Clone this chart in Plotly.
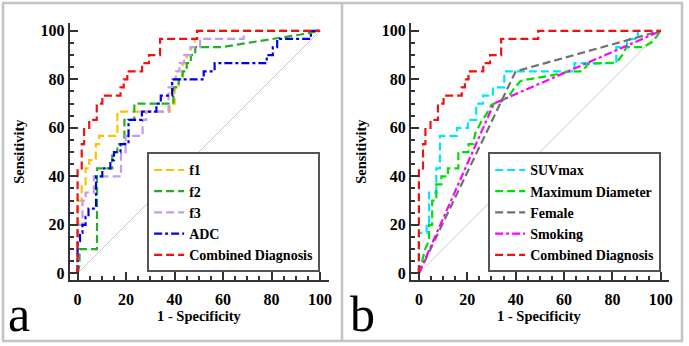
import plotly.graph_objects as go

# ---------------- data ----------------
diag = [0, 100]

combined_x = [0, 0, 1.7, 1.7, 2.7, 2.7, 4.8, 4.8, 7.9, 7.9, 10.2, 10.2, 17.7, 17.7, 19, 19, 20.5, 20.5, 26.6, 26.6, 29.4, 29.4, 34, 34, 49.3, 49.3, 100]
combined_y = [0, 43.3, 43.3, 53.3, 53.3, 60, 60, 63.3, 63.3, 70, 70, 73.3, 73.3, 76.7, 76.7, 80, 80, 83.3, 83.3, 86.7, 86.7, 90, 90, 96.7, 96.7, 100, 100]

f1_x = [0, 0, 1.7, 1.7, 3.3, 3.3, 4.8, 4.8, 7.5, 7.5, 8.9, 8.9, 16.4, 16.4, 38, 38, 40, 40, 41.7, 41.7, 43.3, 43.3, 45, 45, 46.7, 46.7, 48.3, 48.3, 49.3, 49.3, 100]
f1_y = [0, 30, 30, 36.7, 36.7, 43.3, 43.3, 46.7, 46.7, 53.3, 53.3, 56.7, 56.7, 66.7, 66.7, 70, 70, 76.7, 76.7, 80, 80, 86.7, 86.7, 90, 90, 93.3, 93.3, 96.7, 96.7, 100, 100]

f2_x = [0, 0.8, 0.8, 8, 8, 14.3, 14.3, 16.4, 16.4, 19.3, 19.3, 23.4, 23.4, 39.5, 39.5, 41.7, 41.7, 43.3, 43.3, 45, 45, 46.7, 46.7, 48.5, 48.5, 59.5, 70, 82.8, 92, 100]
f2_y = [0, 3.3, 10, 10, 43.3, 43.3, 50, 50, 53.3, 53.3, 63.3, 63.3, 70, 70, 76.7, 76.7, 80, 80, 83.3, 83.3, 86.7, 86.7, 90, 90, 93.3, 93.3, 95, 97, 98.5, 100]

f3_x = [0, 0, 2, 2, 3.3, 3.3, 6.7, 6.7, 17.9, 17.9, 19.8, 19.8, 26.8, 26.8, 28.3, 28.3, 37.5, 37.5, 39, 39, 40.5, 40.5, 42, 42, 43.9, 43.9, 46.5, 46.5, 50.5, 50.5, 68.5, 68.5, 100]
f3_y = [0, 20, 20, 30, 30, 33.3, 33.3, 40, 40, 50, 50, 56.7, 56.7, 63.3, 63.3, 66.7, 66.7, 76.7, 76.7, 80, 80, 83.3, 83.3, 86.7, 86.7, 90, 90, 93.3, 93.3, 96.7, 96.7, 100, 100]

adc_x = [0, 0, 1, 1, 2, 2, 3.3, 3.3, 4.5, 4.5, 7.6, 7.6, 10.2, 10.2, 13.5, 13.5, 15, 15, 17.7, 17.7, 21, 21, 26.5, 26.5, 32.5, 32.5, 34.3, 34.3, 39, 39, 52, 52, 56.5, 56.5, 78, 78, 80.5, 80.5, 82.3, 82.3, 96.2, 96.2, 100]
adc_y = [0, 13.3, 13.3, 16.7, 16.7, 20, 20, 23.3, 23.3, 26.7, 26.7, 40, 40, 43.3, 43.3, 46.7, 46.7, 50, 50, 53.3, 53.3, 63.3, 63.3, 66.7, 66.7, 70, 70, 73.3, 73.3, 80, 80, 83.3, 83.3, 86.7, 86.7, 90, 90, 93.3, 93.3, 96.7, 96.7, 100, 100]

suv_x = [0, 0, 3.2, 3.2, 4.2, 4.2, 7.2, 7.2, 8.7, 8.7, 15.8, 15.8, 20.3, 20.3, 23.7, 23.7, 26.5, 26.5, 30.6, 30.6, 35.3, 35.3, 64.3, 64.3, 81.6, 81.6, 86, 86, 90.5, 90.5, 100]
suv_y = [0, 16.7, 16.7, 20, 20, 33.3, 33.3, 43.3, 43.3, 56.7, 56.7, 60, 60, 63.3, 63.3, 70, 70, 73.3, 73.3, 76.7, 76.7, 83.3, 83.3, 86.7, 86.7, 93.3, 93.3, 96.7, 96.7, 100, 100]

md_x = [0, 1.2, 2.6, 4.2, 4.2, 5.5, 5.5, 7.2, 7.2, 9.3, 9.3, 12, 12, 16.3, 16.3, 20.5, 20.5, 22.5, 23.2, 25.9, 28, 30, 31, 33.5, 35.4, 37.4, 39.6, 42, 45, 53, 62.7, 67.5, 70, 80.3, 82.5, 84.4, 85.7, 92.7, 96.7, 100]
md_y = [0, 5, 10, 13.3, 20, 20, 30, 30, 36.7, 36.7, 40, 40, 43.3, 43.3, 50, 50, 53.3, 53.3, 57.5, 62.8, 65.8, 69.5, 70, 70.5, 71.7, 73.3, 76.7, 79.3, 80, 81.3, 83.3, 83.3, 86.4, 86.9, 88, 90.4, 93.3, 93.3, 95.6, 100]

female_x = [0, 40, 100]
female_y = [0, 83.3, 100]

smoking_x = [0, 31, 100]
smoking_y = [0, 70, 100]

ticks = [0, 20, 40, 60, 80, 100]
x_title = "1 - Specificity"
y_title = "Sensitivity"

# ---------------- styles ----------------
SERIF = "Liberation Serif, Times New Roman, Times, serif"
DASH = "8px,4px"
DASHDOT = "8px,3px,3px,3px"
LW = 2.2
AX = "#333333"

fig = go.Figure()

def add(x, y, name, color, dash, xa, ya, legend, show=True, width=LW):
    fig.add_trace(go.Scatter(x=x, y=y, mode="lines", name=name,
                             line=dict(color=color, width=width, dash=dash),
                             xaxis=xa, yaxis=ya, legend=legend,
                             showlegend=show, hoverinfo="skip"))

# panel a
add(diag, diag, "ref", "#c8c8c8", "solid", "x", "y", "legend", show=False, width=1)
add(f1_x, f1_y, "f1", "#ffc000", DASH, "x", "y", "legend")
add(f2_x, f2_y, "f2", "#22b022", DASH, "x", "y", "legend")
add(f3_x, f3_y, "f3", "#c39bf0", DASH, "x", "y", "legend")
add(adc_x, adc_y, "ADC", "#0000e6", DASHDOT, "x", "y", "legend")
add(combined_x, combined_y, "Combined Diagnosis", "#ee1111", DASH, "x", "y", "legend")

# panel b
add(diag, diag, "ref", "#d8c4c4", "solid", "x2", "y2", "legend2", show=False, width=1)
add(suv_x, suv_y, "SUVmax", "#00e5ff", DASH, "x2", "y2", "legend2")
add(md_x, md_y, "Maximum Diameter", "#00e000", DASH, "x2", "y2", "legend2")
add(female_x, female_y, "Female", "#707070", DASH, "x2", "y2", "legend2")
add(smoking_x, smoking_y, "Smoking", "#ff00ff", DASHDOT, "x2", "y2", "legend2")
add(combined_x, combined_y, "Combined Diagnosis", "#ee1111", DASH, "x2", "y2", "legend2")

W, H = 689, 346
TITLE_FONT = dict(family=SERIF, size=14.5, color="black", weight="bold")

def axis_common():
    return dict(
        showline=True, linecolor=AX, linewidth=2,
        ticks="inside", ticklen=8, tickwidth=1.5, tickcolor=AX,
        tickmode="array", tickvals=ticks, ticktext=[str(t) for t in ticks],
        minor=dict(ticks="inside", ticklen=4, tickwidth=1.5, tickcolor=AX, dtick=5, tick0=0),
        showgrid=False, zeroline=False,
        tickfont=dict(family=SERIF, size=16, color="black", weight="bold"),
        fixedrange=True,
    )

ydom = [64 / H, 323 / H]
xdom_a = [70 / W, 331 / W]
xdom_b = [413.3 / W, 672.5 / W]

xa = axis_common(); xa.update(domain=xdom_a, range=[-3.3, 103.7], anchor="y", ticklabelstandoff=3)
ya = axis_common(); ya.update(domain=ydom, range=[-2.9, 103.3], anchor="x",
                              title=dict(text=y_title, font=TITLE_FONT, standoff=12))
xb = axis_common(); xb.update(domain=xdom_b, range=[-3.3, 103.2], anchor="y2", ticklabelstandoff=3)
yb = axis_common(); yb.update(domain=ydom, range=[-2.9, 103.3], anchor="x2",
                              title=dict(text=y_title, font=TITLE_FONT, standoff=12))

legend_style = dict(
    font=dict(family=SERIF, size=14, color="black", weight="bold"),
    bgcolor="white", bordercolor="#555555", borderwidth=2,
    xanchor="right", yanchor="bottom", tracegroupgap=0,
)

ann = []
for dom in (xdom_a, xdom_b):
    ann.append(dict(text=x_title, xref="paper", yref="paper", x=(dom[0] + dom[1]) / 2, y=(H - 318) / H,
                    xanchor="center", yanchor="middle", showarrow=False, font=TITLE_FONT))
ann.append(dict(text="a", xref="paper", yref="paper", x=6 / W, y=0.086, xanchor="left", yanchor="middle",
                showarrow=False, font=dict(family=SERIF, size=50, color="black")))
ann.append(dict(text="b", xref="paper", yref="paper", x=350 / W, y=0.086, xanchor="left", yanchor="middle",
                showarrow=False, font=dict(family=SERIF, size=50, color="black")))

fig.update_layout(
    width=W, height=H,
    margin=dict(l=0, r=0, t=0, b=0),
    paper_bgcolor="white", plot_bgcolor="white",
    xaxis=xa, yaxis=ya, xaxis2=xb, yaxis2=yb,
    legend=dict(legend_style, x=322 / W, y=(H - 274) / H),
    legend2=dict(legend_style, x=665 / W, y=(H - 274) / H),
    shapes=[
        dict(type="rect", xref="paper", yref="paper", x0=3 / W, x1=(W - 3) / W, y0=3 / H, y1=(H - 3) / H,
             line=dict(color="#c4c4c4", width=2.5)),
        dict(type="line", xref="paper", yref="paper", x0=344 / W, x1=344 / W, y0=3 / H, y1=(H - 3) / H,
             line=dict(color="#c4c4c4", width=2.5)),
    ],
    annotations=ann,
)

fig.write_html("out.html")
